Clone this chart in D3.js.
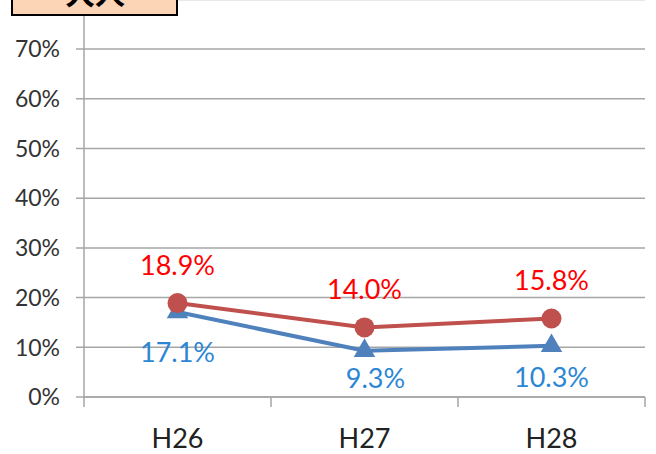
<!DOCTYPE html>
<html>
<head>
<meta charset="utf-8">
<script src="https://cdn.jsdelivr.net/npm/d3@7"></script>
<style>
  body { margin: 0; background: #fff; }
  svg { display: block; font-family: Lato, 'Noto Sans', sans-serif; }
</style>
</head>
<body>
<svg id="chart" width="656" height="454"></svg>
<script>
// values
const years = ['H26', 'H27', 'H28'];
const redValues = [0.189, 0.140, 0.158];
const blueValues = [0.171, 0.093, 0.103];
const yTicks = [0, 0.1, 0.2, 0.3, 0.4, 0.5, 0.6, 0.7, 0.8];
const titleText = '大人';

// hand-placed label nudges (px), as in the original
const blueLabelDx = [0, 11, 0];
const blueLabelDy = [50, 37, 41];

const svg = d3.select('#chart');
const plotLeft = 84, plotRight = 645, plotTop = -0.6, plotBottom = 397;

const x = d3.scaleBand().domain(years).range([plotLeft, plotRight]);
const y = d3.scaleLinear().domain([0, 0.8]).range([plotBottom, plotTop]);
const cx = (d) => x(d) + x.bandwidth() / 2;
const pct = d3.format('.0%');

// gridlines
svg.append('g')
	.selectAll('line')
	.data(yTicks)
	.enter().append('line')
	.attr('x1', plotLeft - 8)
	.attr('x2', plotRight)
	.attr('y1', (d) => y(d))
	.attr('y2', (d) => y(d))
	.style('stroke', '#a6a6a6')
	.style('stroke-width', 1.5);

// y axis line
svg.append('line')
	.attr('x1', plotLeft).attr('x2', plotLeft)
	.attr('y1', 0).attr('y2', plotBottom)
	.style('stroke', '#a6a6a6')
	.style('stroke-width', 1.5);

// y labels (the 80% one sits under the title box, so skip it)
svg.append('g')
	.selectAll('text')
	.data(yTicks.filter((d) => d < 0.8))
	.enter().append('text')
	.attr('x', 60)
	.attr('y', (d) => y(d))
	.attr('dy', '0.36em')
	.attr('text-anchor', 'end')
	.style('font-size', '23px')
	.style('fill', '#333')
	.text(pct);

// x axis
const xAxis = svg.append('g')
	.attr('transform', 'translate(0,' + plotBottom + ')');
xAxis.append('line')
	.attr('x1', plotLeft).attr('x2', plotRight)
	.style('stroke', '#a6a6a6')
	.style('stroke-width', 1.5);
xAxis.selectAll('.tick')
	.data(years.map((d) => x(d)).concat([plotRight]))
	.enter().append('line')
	.attr('x1', (d) => d).attr('x2', (d) => d)
	.attr('y1', 0).attr('y2', 10)
	.style('stroke', '#a6a6a6')
	.style('stroke-width', 1.5);
xAxis.selectAll('text')
	.data(years)
	.enter().append('text')
	.attr('x', cx)
	.attr('y', 51)
	.attr('text-anchor', 'middle')
	.style('font-size', '27px')
	.style('fill', '#222')
	.text((d) => d);

const line = d3.line()
	.x((d, i) => cx(years[i]))
	.y((d) => y(d));

// blue series (triangles)
svg.append('path')
	.datum(blueValues)
	.attr('d', line)
	.style('fill', 'none')
	.style('stroke', '#4f81bd')
	.style('stroke-width', 4);
svg.append('g')
	.selectAll('path')
	.data(blueValues)
	.enter().append('path')
	.attr('transform', (d, i) => 'translate(' + cx(years[i]) + ',' + y(d) + ')')
	.attr('d', d3.symbol().type(d3.symbolTriangle).size(200))
	.style('fill', '#4f81bd');

// red series (circles)
svg.append('path')
	.datum(redValues)
	.attr('d', line)
	.style('fill', 'none')
	.style('stroke', '#c0504d')
	.style('stroke-width', 4);
svg.append('g')
	.selectAll('circle')
	.data(redValues)
	.enter().append('circle')
	.attr('cx', (d, i) => cx(years[i]))
	.attr('cy', (d) => y(d))
	.attr('r', 10)
	.style('fill', '#c0504d');

// data labels
const fmt = d3.format('.1%');
svg.append('g')
	.selectAll('text')
	.data(redValues)
	.enter().append('text')
	.attr('x', (d, i) => cx(years[i]))
	.attr('y', (d) => y(d) - 28)
	.attr('text-anchor', 'middle')
	.style('font-size', '27px')
	.style('fill', '#ff0000')
	.text(fmt);
svg.append('g')
	.selectAll('text')
	.data(blueValues)
	.enter().append('text')
	.attr('x', (d, i) => cx(years[i]) + blueLabelDx[i])
	.attr('y', (d, i) => y(d) + blueLabelDy[i])
	.attr('text-anchor', 'middle')
	.style('font-size', '27px')
	.style('fill', '#2b86d4')
	.text(fmt);

// title box, cut off at the top like the source
svg.append('rect')
	.attr('x', 12).attr('y', -40)
	.attr('width', 165).attr('height', 55)
	.style('fill', '#fbd5b5')
	.style('stroke', '#000')
	.style('stroke-width', 2);
svg.append('text')
	.attr('x', 95)
	.attr('y', 4)
	.attr('text-anchor', 'middle')
	.style('font-family', "'Noto Sans CJK JP', sans-serif")
	.style('font-weight', 'bold')
	.style('font-size', '30px')
	.style('fill', '#000')
	.text(titleText);
</script>
</body>
</html>
